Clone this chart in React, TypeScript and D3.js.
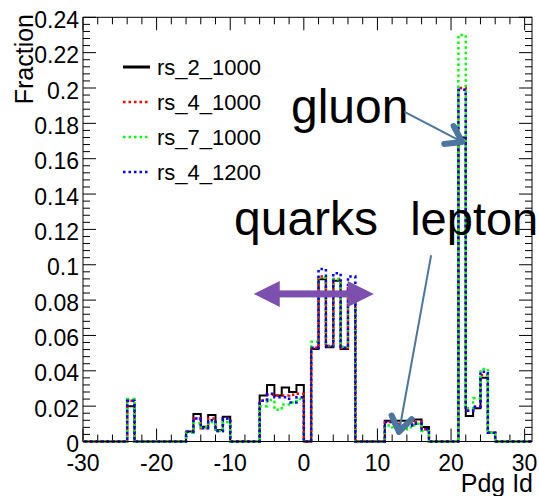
import React from 'react'
import * as d3 from 'd3'

const W = 539
const H = 496
const FRAME = { left: 83, right: 532, top: 17.3, bottom: 441.5 }
const FONT = '"Liberation Sans", Arial, Helvetica, sans-serif'

// bins that hold something (lower edge of each unit bin); every other bin is empty
const pdgIds = [-24, -16, -15, -14, -13, -12, -11, -6, -5, -4, -3, -2, -1, 1, 2, 3, 4, 5, 6, 11, 12, 13, 14, 15, 16, 21, 22, 23, 24, 25]

const rs_2_1000 = [0.020, 0.0057, 0.0156, 0.0084, 0.015, 0.0065, 0.014, 0.026, 0.032, 0.026, 0.0305, 0.028, 0.032,
  0.0524, 0.0918, 0.0533, 0.091, 0.0524, 0.0858, 0.0118, 0.0118, 0.0118, 0.0118, 0.0125, 0.0082, 0.172, 0.0144, 0.0188, 0.0361, 0.005]
const rs_4_1000 = [0.023, 0.005, 0.013, 0.0075, 0.013, 0.006, 0.013, 0.023, 0.0265, 0.026, 0.026, 0.0265, 0.027,
  0.053, 0.0933, 0.054, 0.092, 0.053, 0.0867, 0.011, 0.010, 0.009, 0.010, 0.011, 0.007, 0.200, 0.0174, 0.0197, 0.0376, 0.005]
const rs_7_1000 = [0.024, 0.005, 0.0103, 0.008, 0.011, 0.006, 0.011, 0.020, 0.0235, 0.018, 0.021, 0.022, 0.024,
  0.0565, 0.0927, 0.054, 0.0918, 0.0537, 0.087, 0.009, 0.008, 0.007, 0.008, 0.010, 0.006, 0.230, 0.0188, 0.0245, 0.041, 0.005]
const rs_4_1200 = [0.023, 0.0055, 0.013, 0.0075, 0.012, 0.006, 0.013, 0.023, 0.027, 0.025, 0.025, 0.022, 0.025,
  0.053, 0.0976, 0.054, 0.0952, 0.053, 0.0933, 0.011, 0.010, 0.008, 0.009, 0.010, 0.007, 0.199, 0.0174, 0.0197, 0.0395, 0.005]

const seriesNames = ['rs_2_1000', 'rs_4_1000', 'rs_7_1000', 'rs_4_1200']
const seriesValues = [rs_2_1000, rs_4_1000, rs_7_1000, rs_4_1200]
const seriesColors = ['#000000', '#ff0000', '#00ff00', '#0000ff']

const xTicks = [-30, -20, -10, 0, 10, 20, 30]
const yTicks = [0, 0.02, 0.04, 0.06, 0.08, 0.1, 0.12, 0.14, 0.16, 0.18, 0.2, 0.22, 0.24]
const yTickLabels = ['0', '0.02', '0.04', '0.06', '0.08', '0.1', '0.12', '0.14', '0.16', '0.18', '0.2', '0.22', '0.24']

const x = d3.scaleLinear().domain([-30, 31]).range([FRAME.left, FRAME.right])
const y = d3.scaleLinear().domain([0, 0.24]).range([FRAME.bottom, FRAME.top])

const step = d3.line<[number, number]>()
  .x(d => x(d[0]))
  .y(d => y(d[1]))
  .curve(d3.curveStepAfter)

function histPath(values: number[]) {
  const pts: [number, number][] = []
  for (let b = -30; b <= 30; b++) {
    const i = pdgIds.indexOf(b)
    pts.push([b, i >= 0 ? values[i] : 0])
  }
  pts.push([31, pts[pts.length - 1][1]])
  return step(pts) as string
}

function lineStyle(i: number) {
  if (i === 0) return { stroke: '#000', strokeWidth: 2 }
  return { stroke: seriesColors[i], strokeWidth: 2.5, strokeDasharray: '2.5,3', strokeDashoffset: (i - 1) * 1.8 }
}

// chevron arrow head at tip, pointing away from `from`
function chevron(fx: number, fy: number, tx: number, ty: number, len: number, ang: number) {
  const a = Math.atan2(ty - fy, tx - fx)
  const p1 = [tx - len * Math.cos(a - ang), ty - len * Math.sin(a - ang)]
  const p2 = [tx - len * Math.cos(a + ang), ty - len * Math.sin(a + ang)]
  return `M${p1[0]},${p1[1]}L${tx},${ty}L${p2[0]},${p2[1]}`
}

export default function App() {
  const xMinor = d3.range(-30, 31.01, 2)
  const yMinor = d3.range(0, 0.2401, 0.004)

  // annotation positions in data coordinates
  const gl = { x0: x(13.75), y0: y(0.1864), x1: x(21.5), y1: y(0.1695) }
  const lp = { x0: x(17.28), y0: y(0.105), x1: x(12.93), y1: y(0.0054) }
  const qa = { xl: x(-6.8), xr: x(9.5), yy: y(0.0835) }
  const purple = '#7d4fae'
  const steel = '#4a76a0'

  return (
    <svg width={W} height={H} style={{ position: 'absolute', left: 0, top: 0, background: '#fff' }}
      fontFamily={FONT}>
      <rect x={0} y={0} width={W} height={H} fill="#fff" />

      {/* ticks */}
      <g stroke="#000" strokeWidth={1}>
        {xMinor.map(t => {
          const len = t % 10 === 0 ? 13 : 7
          return (
            <g key={'xt' + t}>
              <line x1={x(t)} x2={x(t)} y1={FRAME.bottom} y2={FRAME.bottom - len} />
              <line x1={x(t)} x2={x(t)} y1={FRAME.top} y2={FRAME.top + len} />
            </g>
          )
        })}
        {yMinor.map((t, k) => {
          const len = k % 5 === 0 ? 13 : 7
          return (
            <g key={'yt' + k}>
              <line x1={FRAME.left} x2={FRAME.left + len} y1={y(t)} y2={y(t)} />
              <line x1={FRAME.right} x2={FRAME.right - len} y1={y(t)} y2={y(t)} />
            </g>
          )
        })}
      </g>

      {/* histograms */}
      {seriesValues.map((v, i) => (
        <path key={seriesNames[i]} d={histPath(v)} fill="none" {...lineStyle(i)} />
      ))}

      <rect x={FRAME.left} y={FRAME.top} width={FRAME.right - FRAME.left} height={FRAME.bottom - FRAME.top}
        fill="none" stroke="#000" strokeWidth={1} />

      {/* tick labels */}
      <g fontSize={23} fill="#000">
        {yTicks.map((t, k) => (
          <text key={'yl' + k} x={FRAME.left - 4} y={y(t) + 10.5} textAnchor="end">{yTickLabels[k]}</text>
        ))}
        {xTicks.map(t => (
          <text key={'xl' + t} x={x(t)} y={471} textAnchor="middle">{t}</text>
        ))}
      </g>

      {/* axis titles */}
      <text x={533} y={492} textAnchor="end" fontSize={25}>Pdg Id</text>
      <text transform="translate(33,14) rotate(-90)" textAnchor="end" fontSize={25}>Fraction</text>

      {/* legend */}
      {seriesNames.map((n, i) => {
        const cy = 67 + i * 35
        return (
          <g key={'lg' + n}>
            <line x1={123} x2={150} y1={cy} y2={cy} {...lineStyle(i)} strokeWidth={i === 0 ? 3 : 2.5} strokeDashoffset={0} />
            <text x={157} y={cy + 8} fontSize={22}>{n}</text>
          </g>
        )
      })}

      {/* annotations */}
      <g fontSize={48} fill="#000">
        <text x={x(-1.74)} y={y(0.1802)}>gluon</text>
        <text x={x(-9.48)} y={y(0.1168)}>quarks</text>
        <text x={x(14.45)} y={y(0.1168)} fontSize={47}>lepton</text>
      </g>

      <g stroke={steel} fill="none" strokeLinecap="round" strokeLinejoin="round">
        <line x1={gl.x0} y1={gl.y0} x2={gl.x1} y2={gl.y1} strokeWidth={2} />
        <path d={chevron(gl.x0, gl.y0, gl.x1, gl.y1, 18, 0.6)} strokeWidth={6} />
        <line x1={lp.x0} y1={lp.y0} x2={lp.x1} y2={lp.y1} strokeWidth={2} />
        <path d={chevron(lp.x0, lp.y0, lp.x1, lp.y1, 18, 0.6)} strokeWidth={6} />
      </g>

      <g fill={purple}>
        <rect x={qa.xl + 20} y={qa.yy - 3.5} width={qa.xr - qa.xl - 40} height={7} />
        <path d={`M${qa.xl},${qa.yy}L${qa.xl + 26},${qa.yy - 13}L${qa.xl + 26},${qa.yy + 13}Z`} />
        <path d={`M${qa.xr},${qa.yy}L${qa.xr - 26},${qa.yy - 13}L${qa.xr - 26},${qa.yy + 13}Z`} />
      </g>
    </svg>
  )
}
